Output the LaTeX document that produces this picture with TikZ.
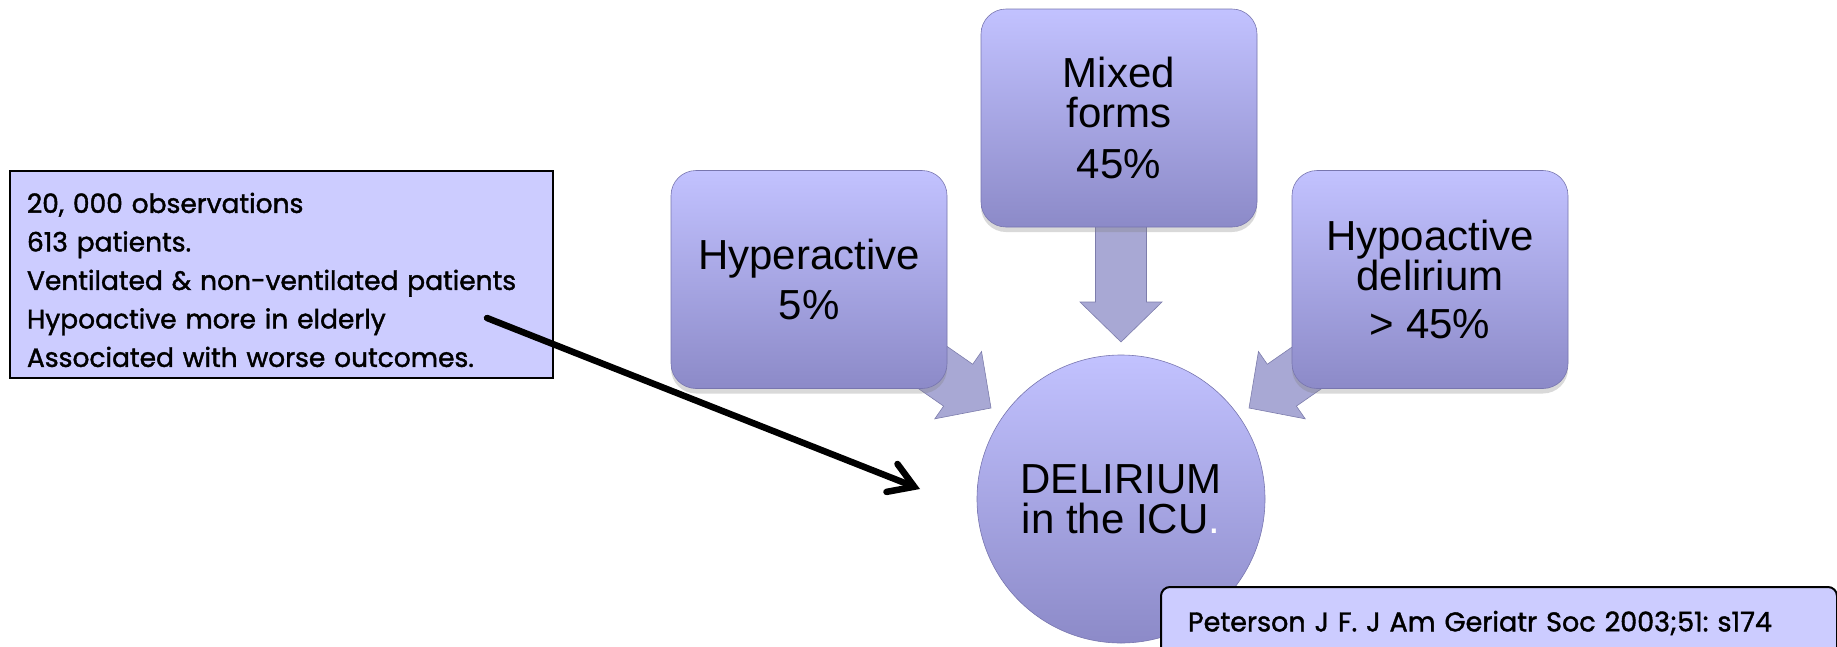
\documentclass[tikz,border=0pt]{standalone}
\usepackage{fontspec}
\setmainfont{Liberation Sans}
\newfontfamily\notefont{Poppins}[RawFeature={embolden=1.5}]
\usetikzlibrary{arrows.meta,shadows}
\definecolor{boxtop}{RGB}{194,194,255}
\definecolor{boxbot}{RGB}{140,138,200}
\definecolor{boxedge}{RGB}{120,118,175}
\definecolor{notefill}{RGB}{204,204,255}
\definecolor{arrowfill}{RGB}{168,168,212}
\definecolor{arrowedge}{RGB}{125,125,172}
\frenchspacing
\begin{document}
\begin{tikzpicture}[x=1pt,y=-1pt,
  stepbox/.style={rectangle, rounded corners=25pt, minimum width=276pt, minimum height=218pt,
    top color=boxtop, bottom color=boxbot, draw=boxedge, line width=0.6pt, align=center,
    font=\fontsize{42}{40}\selectfont,
    drop shadow={shadow xshift=0pt, shadow yshift=-5pt, opacity=0.3}},
  hubnode/.style={circle, minimum size=288pt, inner sep=0pt, top color=boxtop, bottom color=boxbot,
    draw=boxedge, line width=0.6pt, align=center, font=\fontsize{42}{40}\selectfont},
  notebox/.style={rectangle, fill=notefill, draw=black, line width=2pt, align=left,
    font=\notefont\fontsize{26.5}{38.5}\selectfont},
  citebox/.style={rectangle, rounded corners=9pt, fill=notefill, draw=black, line width=2pt, align=left,
    font=\notefont\fontsize{27}{32}\selectfont},
  arrowbody/.style={fill=arrowfill, draw=arrowedge, line width=0.6pt},
  blockarrow/.pic={\path[arrowbody] (0,0) -- (-40,41) -- (-40,25.5) -- (-120,25.5) -- (-120,-25.5) -- (-40,-25.5) -- (-40,-41) -- cycle;},
  pointer/.style={line width=6.5pt, line cap=round, -{Straight Barb[length=24pt,width=30pt,line cap=round]}}
]
\useasboundingbox (0,0) rectangle (1837,646);

% tips of the block arrows
\coordinate (tipL) at (991,408);
\coordinate (tipM) at (1121,342);
\coordinate (tipR) at (1249,408);
\pic[rotate=-34.8] at (tipL) {blockarrow};
\pic[rotate=214.8] at (tipR) {blockarrow};
\pic[rotate=-90] at (tipM) {blockarrow};

% boxes
\node[stepbox] (hyper) at (809,279.5) {Hyperactive\\[10pt]5\%};
\node[stepbox] (mixed) at (1119,118) {Mixed\\forms\\[11pt]45\%};
\node[stepbox] (hypo) at (1430,279.5) {Hypoactive\\delirium\\[8pt]> 45\%};

% hub
\node[hubnode] (icu) at (1121,499) {DELIRIUM\\in the ICU\textcolor{white}{.}};

% citation
\node[citebox, anchor=north west, minimum width=676pt, minimum height=72pt, text width=622pt, inner xsep=27pt] (cite) at (1160,586) {\mbox{Peterson J F. J Am Geriatr Soc 2003;51: s174}};

% note box
\node[notebox, anchor=north west, minimum width=543pt, minimum height=207pt, text width=509pt, inner xsep=17pt] (note) at (9,170)
  {\rule{0pt}{31pt}20, 000 observations\\613 patients.\\Ventilated \& non-ventilated patients\\Hypoactive more in elderly\\Associated with worse outcomes.};

% pointer
\coordinate (pstart) at (487,318);
\coordinate (pend) at (920,489);
\draw[pointer] (pstart) -- (pend);
\end{tikzpicture}
\end{document}
